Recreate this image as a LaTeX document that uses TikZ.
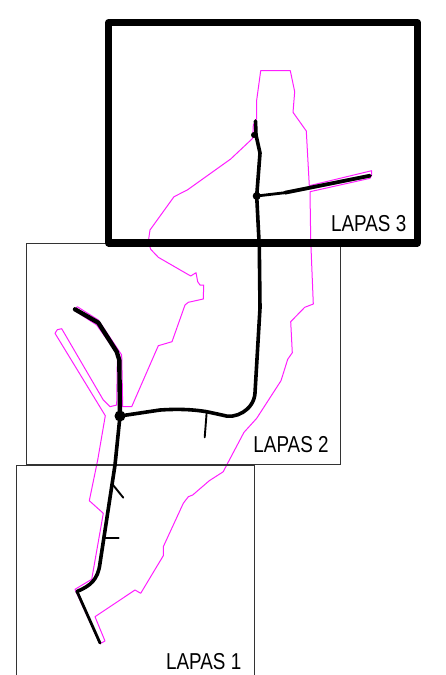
\documentclass[tikz,border=0pt]{standalone}
\usepackage{fontspec}
\setmainfont{Liberation Sans}
\usepackage{tikz}
\usetikzlibrary{positioning}

\definecolor{batas}{RGB}{255,30,255}

\begin{document}
\begin{tikzpicture}
[x=1pt,y=-1pt,
batas/.style={draw=batas,line width=1pt,line join=round},
jalan/.style={draw=black,line width=3.6pt,line join=round,line cap=round},
cabang/.style={draw=black,line width=1.9pt,line cap=round},
lapas/.style={draw=black!80,line width=.9pt},
lapasaktif/.style={draw=black,line width=7.4pt,line join=round},
judul/.style={anchor=base west,inner sep=0pt,xscale=.82,font=\fontsize{23}{23}\selectfont,text=black},
simpang/.style={circle,fill=black,inner sep=0pt}]

\useasboundingbox (0,0) rectangle (446,675);

% batas kawasan
\draw[batas] (260.7,70.7) -- (290.3,70.7) -- (294.7,91.7) -- (293,112.3) -- (306.3,131)
 -- (309.3,185.7) -- (371.7,170.7) -- (371.7,175) -- (370,178.3) -- (310,191.7)
 -- (310.7,240) -- (313.3,304) -- (304.7,307.3) -- (290.7,321.7) -- (292.3,352.7)
 -- (287.7,359.3) -- (281,380.7) -- (256.7,418.3) -- (244,432.3) -- (226.7,465)
 -- (223.3,471.7) -- (209.3,480.7) -- (192.7,495) -- (188.3,496.7) -- (183.3,503.3)
 -- (163.3,546.7) -- (163.3,555.7) -- (140.7,593.3) -- (135,590) -- (95,616.7)
 -- (105,641) -- (100,643.7) -- (75,589.3) -- (91.7,579.3) -- (103.3,513.3)
 -- (89.3,500.7) -- (97.7,460) -- (105.3,415.7) -- (55,333.3) -- (57.3,329.7)
 -- (61.7,328.7) -- (103.3,400) -- (110,406.7) -- (116.7,405) -- (117.3,363)
 -- (118,355) -- (96.7,325) -- (74,310) -- (77.3,306.7) -- (98.3,320) -- (121.7,355)
 -- (122.7,406.7) -- (131.7,406.7) -- (158.3,345.7) -- (172,341.7) -- (185,305)
 -- (188.3,302.3) -- (203.3,299) -- (203.7,285) -- (200,285) -- (197.7,281.7)
 -- (196,272.7) -- (190.7,276) -- (158.3,257.3) -- (150.7,249.3) -- (148.3,241.7)
 -- (150,230) -- (174,196.7) -- (187.3,190) -- (230.7,159) -- (252.7,138.3)
 -- (253.3,125) -- (256.7,118.3) -- (256.7,100) -- cycle;

% kotak lapas
\draw[lapas] (108,243.3) -- (26.7,243.3) -- (26.7,464.7) -- (340.7,464.7) -- (340.7,243.3);
\draw[lapas] (16.7,675) -- (16.7,465) -- (254,465) -- (254,675);
\draw[lapasaktif] (108.7,22.7) rectangle (417.3,243);

% titik simpang
\coordinate (utara) at (255.5,121);
\node[simpang,minimum size=8pt] (timur) at (256.7,196) {};
\node[simpang,minimum size=11pt] (tengah) at (120,416) {};
\node[simpang,minimum size=6pt] (utaraB) at (254,135) {};
\coordinate (selatan) at (77,591.5);
\coordinate (ujungS) at (100,643);
\coordinate (ujungB) at (75,309.3);
\coordinate (tekukT) at (285,192.7);
\coordinate (ujungT) at (370,175.7);

% jalan utama
\draw[jalan] (utara) -- (256,135) -- (260,153) -- (256.7,196) -- (259.3,246.7) -- (260,308)
 -- (255,393) .. controls (254,410) and (235,420) .. (222,415) -- (206.7,411.7)
 .. controls (190,409) and (175,409) .. (160,410) -- (tengah.center) -- (115,465) -- (100,563.3)
 .. controls (98,580) and (90,586) .. (selatan);
\draw[jalan,line width=2.8pt] (selatan) -- (ujungS);
\draw[jalan,line width=4.4pt] (tengah.center) -- (119.3,360) -- (116.7,351.7) -- (98.3,322.7) -- (ujungB);
\draw[jalan,line width=2.8pt] (timur.center) -- (tekukT);
\draw[jalan,line width=3.8pt] (tekukT) -- (ujungT);

% cabang
\coordinate (cabangA) at (204.7,437.3);
\coordinate (cabangB) at (123.3,497.7);
\coordinate (cabangC) at (118.7,538);
\draw[cabang] (206.7,412) -- (cabangA);
\draw[cabang] (111.7,483.3) -- (cabangB);
\draw[cabang] (104.3,538) -- (cabangC);

% label
\node[judul] (lapas3) at (331,231.7) {LAPAS 3};
\node[judul] (lapas2) at (253.3,452.7) {LAPAS 2};
\node[judul] (lapas1) at (166,669.5) {LAPAS 1};

\end{tikzpicture}
\end{document}
